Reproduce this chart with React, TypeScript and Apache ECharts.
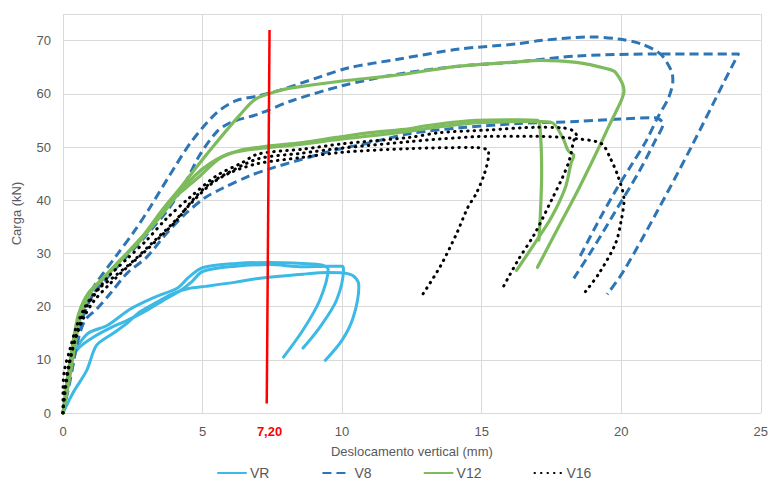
import React, { useEffect, useRef } from "react";
import * as echarts from "echarts";

// x: Deslocamento vertical (mm), y: Carga (kN)
const xTicks = [0, 5, 10, 15, 20, 25];
const yTicks = [0, 10, 20, 30, 40, 50, 60, 70];
const markValueLabel = "7,20";
const markLine = [[7.3, 1.8], [7.4, 72]];

const vrA = [[0,0],[0.15,5],[0.3,10],[0.5,12.4],[0.9,15],[1.6,16.5],[2.4,19.5],[3.3,21.8],[4.1,23.5],[4.5,25.5],[5,27.3],[6.2,28.1],[7.4,28.3],[8.6,28.1],[9.3,27.8],[9.5,27],[9.2,21.2],[8.6,15.6],[7.9,10.5]];
const vrB = [[0,0],[0.1,4],[0.3,10],[0.6,12.4],[1.07,14.2],[1.7,16],[2.3,17.4],[3,19.3],[3.7,21.5],[4.2,23],[4.6,24.6],[5,26.6],[6.2,27.6],[7.4,27.9],[8.6,27.5],[9.5,27.6],[10,27.6],[10.05,27],[9.8,21.2],[9.2,16.1],[8.6,12.2]];
const vrC = [[0,0],[0.36,3.8],[0.85,8],[1.2,12.7],[1.8,15],[2.3,16.9],[2.75,19],[3.35,20.8],[3.95,22.5],[4.5,23.4],[5.1,23.8],[6.2,24.6],[7,25.3],[8.6,26.1],[9.5,26.4],[10.2,26.2],[10.5,25.3],[10.6,23.8],[10.4,18],[10,13.7],[9.4,9.9]];

const v8A = [[0,0],[0.15,5],[0.35,12],[0.6,18],[0.85,21.5],[1.2,24.5],[1.9,29.5],[2.6,34.5],[3.1,38.5],[3.8,44.5],[4.6,51],[5.5,56.4],[6.2,58.7],[7,59.6],[7.9,60.9],[9.1,63],[10.25,64.9],[12,66.5],[14.2,68.4],[16.3,69.4],[17.1,70],[18.9,70.7],[19.9,70.3],[20.7,69.4],[21.4,67.5],[21.8,64.3],[21.85,62.5],[21.7,59.3],[21.3,55.5],[20.9,51.2],[20.4,46.9],[19.8,41.8],[19.2,36.2],[18.5,29.2]];
const v8B = [[0,0],[0.25,6],[0.5,13],[0.75,18.5],[1.1,22.5],[1.6,25.5],[2.3,29.5],[3,33.5],[3.8,38.5],[4.4,43.5],[4.9,48.5],[5.5,52.8],[6,54.6],[7,56.2],[8.2,58.7],[10,61.5],[12,63.7],[14.2,65.2],[16.3,66],[18.4,67.1],[21.4,67.5],[24.2,67.5],[23.7,62.4],[22.5,49.9],[21.3,38],[20.1,26.8],[19.5,22.3]];
const v8C = [[0,0],[0.15,4],[0.35,9],[0.55,14],[0.8,17.5],[1.2,19.5],[1.7,22.5],[2.3,26.3],[3,29.3],[3.7,33.7],[4.4,37.5],[5.1,40.5],[5.7,42.2],[6.7,44.6],[7.4,45.9],[8.5,47.6],[9.8,49.5],[11,50.8],[12.4,52.5],[14.2,53.6],[16.3,54.4],[18.4,54.8],[21.2,55.5],[21.5,54.4],[21.2,51],[20.6,45],[19.8,38],[19,31],[18.3,25.3]];

const v12A = [[0,0],[0.15,6],[0.35,13],[0.55,18.5],[0.8,21.5],[1.1,23.5],[1.7,26.8],[2.3,30],[2.9,33.5],[3.5,37.8],[4.2,42.3],[4.9,47],[5.6,51.5],[6.3,55.8],[6.9,59],[7.75,60.6],[8.2,61.1],[10,62.4],[11.8,63.4],[14.2,65.2],[16.3,66],[17.1,66.3],[18.4,65.9],[19.5,64.7],[19.8,64],[20.1,60.6],[20,58.7],[19.6,54.4],[19.2,49.9],[18.5,42.4],[17.75,34.9],[17,27.4]];
const v12B = [[0,0],[0.2,6],[0.4,13],[0.6,19],[0.9,22.5],[1.4,25],[2,28.5],[2.7,32],[3.3,35.8],[3.8,39.6],[4.4,42.3],[4.9,44.5],[5.6,47.8],[6.3,49.3],[7.4,50.2],[8.5,50.8],[9.8,51.8],[11,52.7],[12.4,53.4],[13,54],[14.8,55],[16.3,55.1],[17,55],[17.1,53],[17.15,45],[17.1,37],[17.05,32.5]];
const v12C = [[0,0],[0.25,7],[0.5,15],[0.75,20],[1.1,23.5],[1.6,26],[2.2,29.5],[2.9,33.5],[3.5,37],[4.1,41],[4.7,44.5],[5.3,47],[6,48.8],[7,49.7],[8.5,50.5],[10,51.5],[12,52.7],[13.5,53.8],[15,54.6],[16.5,54.8],[17.5,54.6],[17.9,51.8],[18.1,49.3],[18.3,48.4],[18.2,46.9],[18,42.4],[17.5,36.8],[16.9,31.9],[16.25,26.8]];

const v16A = [[0,0],[0,4],[0.05,8],[0.25,12],[0.5,16.5],[0.8,20],[1.2,23],[1.8,25.5],[2.5,28.5],[3.2,32],[3.9,35.5],[4.6,39.5],[5.3,43],[6,45.2],[7,46.9],[8.5,48],[10,49],[12.4,49.7],[14.8,49.9],[15.25,49.3],[15.25,48.7],[15.1,45],[14.8,41.2],[14.5,38.6],[14.1,33.7],[13.5,27.4],[12.8,21.6]];
const v16B = [[0,0],[0.1,5],[0.3,11],[0.55,16],[0.8,19.5],[1.1,22],[1.6,25.5],[2.3,29],[3,32.5],[3.7,36.5],[4.5,40.3],[5.5,44.6],[6.4,47],[7,48.7],[8.6,49.6],[10,50.6],[12.4,51.8],[13.5,52.7],[15.25,53.2],[17,53.7],[17.9,53.6],[18.3,53],[18.4,52.1],[18.3,51.2],[18.2,48.7],[18.1,46.9],[17.9,44.3],[17.5,40],[16.9,33.7],[16.3,28.7],[15.7,23]];
const v16C = [[0,0],[0.05,4],[0.2,9],[0.45,14],[0.75,18],[1.1,21],[1.7,24.4],[2.3,27.4],[2.86,30],[3.46,33],[4.07,36.2],[4.64,40],[5.25,43.1],[5.86,45],[7,47.8],[8.5,48.8],[10,49.8],[12.4,51],[13.5,51.5],[15.25,52],[17,52],[18.5,51.5],[19.3,50.6],[19.6,48],[19.9,44.3],[20.1,40],[20,36.2],[19.8,31.9],[19.2,26.2],[18.7,22.7]];

const seriesNames = ["VR", "V8", "V12", "V16"];

const FONT = "'Liberation Sans', Arial, sans-serif";
const GRAY = "#595959";
const GRID = "#d9d9d9";

export default function App() {
  const ref = useRef<HTMLDivElement>(null);
  useEffect(() => {
    if (!ref.current) return;
    const chart = echarts.init(ref.current, null, { renderer: "svg" });
    const styles: Record<string, any> = {
      VR: { color: "#3cb9e4", width: 3, type: "solid", cap: "round", join: "round" },
      V8: { color: "#2e75b6", width: 3, type: [9, 5], cap: "butt", join: "round" },
      V12: { color: "#7dbb5c", width: 3.2, type: "solid", cap: "round", join: "round" },
      V16: { color: "#000000", width: 3, type: [0.5, 6], cap: "round", join: "round" },
    };
    const curves: [string, number[][]][] = [
      ["VR", vrA], ["VR", vrB], ["VR", vrC],
      ["V8", v8A], ["V8", v8B], ["V8", v8C],
      ["V12", v12A], ["V12", v12B], ["V12", v12C],
      ["V16", v16A], ["V16", v16B], ["V16", v16C],
    ];
    const series: any[] = curves.map(([name, data]) => ({
      type: "line",
      name,
      data,
      xAxisIndex: 0,
      yAxisIndex: 0,
      showSymbol: false,
      symbol: "none",
      smooth: 0.3,
      color: styles[name].color,
      lineStyle: { ...styles[name] },
      emphasis: { disabled: true },
      z: name === "VR" ? 2 : name === "V8" ? 3 : name === "V12" ? 4 : 5,
    }));
    series.push({
      type: "line",
      name: "mark",
      data: markLine,
      showSymbol: false,
      symbol: "none",
      color: "#ff0000",
      lineStyle: { color: "#ff0000", width: 2.5 },
      z: 10,
    });
    chart.setOption({
      animation: false,
      textStyle: { fontFamily: FONT },
      grid: { left: 63, right: 8, top: 14, bottom: 73, containLabel: false },
      legend: {
        data: seriesNames,
        bottom: 1,
        left: 212,
        itemWidth: 28,
        itemHeight: 14,
        itemGap: 52,
        itemStyle: { opacity: 0 },
        textStyle: { color: GRAY, fontSize: 14, fontFamily: FONT, padding: [0, 0, 0, -1] },
      },
      xAxis: [
        {
          type: "value",
          min: xTicks[0],
          max: xTicks[xTicks.length - 1],
          interval: 5,
          name: "Deslocamento vertical (mm)",
          nameLocation: "middle",
          nameGap: 32,
          nameTextStyle: { color: GRAY, fontSize: 13, fontFamily: FONT },
          axisLine: { show: true, lineStyle: { color: GRID, width: 1 } },
          axisTick: { show: false },
          axisLabel: { color: GRAY, fontSize: 13, margin: 12, fontFamily: FONT },
          splitLine: { show: true, lineStyle: { color: GRID, width: 1 } },
        },
        {
          type: "value",
          min: xTicks[0],
          max: xTicks[xTicks.length - 1],
          position: "bottom",
          axisLine: { show: false },
          axisTick: { show: false },
          splitLine: { show: false },
          axisLabel: {
            customValues: [7.4],
            formatter: () => markValueLabel,
            color: "#ff0000",
            fontWeight: "bold",
            fontSize: 13,
            margin: 12,
            fontFamily: FONT,
          },
        },
      ],
      yAxis: {
        type: "value",
        min: 0,
        max: 75,
        interval: 10,
        name: "Carga (kN)",
        nameLocation: "middle",
        nameGap: 40,
        nameTextStyle: { color: GRAY, fontSize: 13, fontFamily: FONT },
        axisLine: { show: false },
        axisTick: { show: false },
        axisLabel: {
          color: GRAY,
          fontSize: 13,
          margin: 12,
          fontFamily: FONT,
          showMaxLabel: false,
          formatter: (v: number) => (yTicks.includes(v) ? String(v) : ""),
        },
        splitLine: { show: true, lineStyle: { color: GRID, width: 1 } },
      },
      series,
    });
    return () => chart.dispose();
  }, []);
  return (
    <div
      ref={ref}
      style={{ position: "fixed", left: 0, top: 0, width: 771, height: 486, background: "#fff" }}
    />
  );
}
